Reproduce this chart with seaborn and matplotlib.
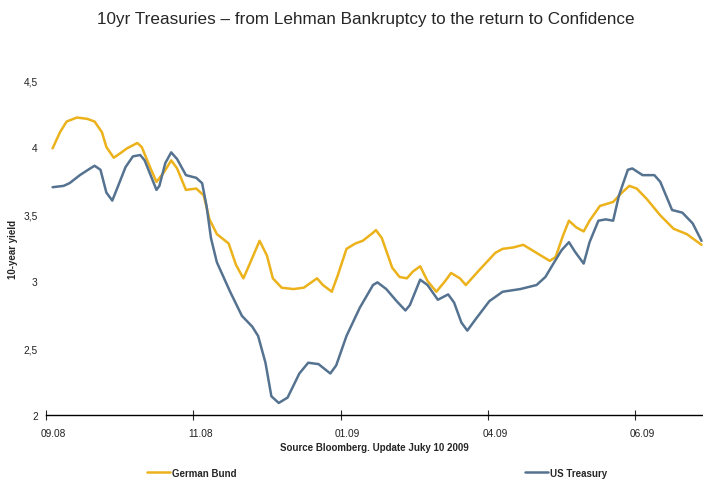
import numpy as np
import pandas as pd
import matplotlib
matplotlib.use('Agg')
import matplotlib.pyplot as plt
import matplotlib.transforms as mtransforms
import seaborn as sns

sns.set_style("white")
plt.rcParams['font.family'] = ['Liberation Sans', 'DejaVu Sans']

# x in "tick slots": 0 = 09.08, 1 = 11.08, 2 = 01.09, 3 = 04.09, 4 = 06.09
tick_labels = ['09.08', '11.08', '01.09', '04.09', '06.09']
ytick_vals = [2, 2.5, 3, 3.5, 4, 4.5]
ytick_labels = ['2', '2,5', '3', '3,5', '4', '4,5']

bund_x = [0.045, 0.095, 0.14, 0.21, 0.28, 0.33, 0.38, 0.41, 0.46, 0.50, 0.55, 0.62, 0.65,
          0.71, 0.75, 0.80, 0.85, 0.89, 0.95, 1.02, 1.07, 1.11, 1.16, 1.24, 1.29, 1.34,
          1.38, 1.45, 1.50, 1.54, 1.60, 1.68, 1.75, 1.84, 1.88, 1.94, 1.98, 2.04, 2.10,
          2.15, 2.22, 2.24, 2.28, 2.35, 2.40, 2.45, 2.49, 2.54, 2.59, 2.65, 2.71, 2.75,
          2.81, 2.85, 2.94, 3.05, 3.10, 3.17, 3.24, 3.33, 3.42, 3.46, 3.51, 3.55, 3.60,
          3.65, 3.69, 3.76, 3.85, 3.91, 3.96, 4.01, 4.08, 4.17, 4.26, 4.35, 4.45]
bund_y = [3.99, 4.11, 4.19, 4.22, 4.21, 4.19, 4.11, 4.00, 3.92, 3.95, 3.99, 4.03, 4.00,
          3.84, 3.74, 3.81, 3.90, 3.84, 3.68, 3.69, 3.64, 3.46, 3.35, 3.28, 3.12, 3.02,
          3.12, 3.30, 3.19, 3.02, 2.95, 2.94, 2.95, 3.02, 2.97, 2.92, 3.04, 3.24, 3.28,
          3.30, 3.36, 3.38, 3.32, 3.10, 3.03, 3.02, 3.07, 3.11, 3.00, 2.92, 3.00, 3.06,
          3.02, 2.97, 3.08, 3.21, 3.24, 3.25, 3.27, 3.21, 3.15, 3.18, 3.34, 3.45, 3.40,
          3.37, 3.45, 3.56, 3.59, 3.66, 3.71, 3.69, 3.61, 3.49, 3.39, 3.35, 3.27]

ust_x = [0.045, 0.12, 0.16, 0.23, 0.30, 0.33, 0.37, 0.41, 0.45, 0.49, 0.54, 0.59, 0.64,
         0.67, 0.71, 0.75, 0.77, 0.81, 0.85, 0.89, 0.95, 1.02, 1.06, 1.09, 1.12, 1.16,
         1.25, 1.33, 1.40, 1.44, 1.49, 1.53, 1.58, 1.64, 1.72, 1.78, 1.85, 1.93, 1.97,
         2.04, 2.13, 2.22, 2.25, 2.31, 2.38, 2.44, 2.47, 2.54, 2.59, 2.66, 2.73, 2.77,
         2.82, 2.86, 2.92, 3.01, 3.10, 3.22, 3.33, 3.39, 3.45, 3.50, 3.55, 3.59, 3.65,
         3.69, 3.75, 3.80, 3.85, 3.89, 3.95, 3.98, 4.05, 4.13, 4.17, 4.25, 4.32, 4.39, 4.45]
ust_y = [3.70, 3.71, 3.73, 3.79, 3.84, 3.86, 3.83, 3.66, 3.60, 3.71, 3.85, 3.93, 3.94,
         3.90, 3.79, 3.68, 3.71, 3.88, 3.96, 3.91, 3.79, 3.77, 3.73, 3.56, 3.32, 3.14,
         2.92, 2.74, 2.66, 2.59, 2.39, 2.14, 2.09, 2.13, 2.31, 2.39, 2.38, 2.31, 2.37,
         2.59, 2.80, 2.97, 2.99, 2.94, 2.85, 2.78, 2.82, 3.01, 2.97, 2.86, 2.90, 2.84,
         2.69, 2.63, 2.72, 2.85, 2.92, 2.94, 2.97, 3.03, 3.14, 3.23, 3.29, 3.22, 3.13,
         3.29, 3.45, 3.46, 3.45, 3.64, 3.83, 3.84, 3.79, 3.79, 3.74, 3.53, 3.51, 3.43, 3.30]

df = pd.concat([
    pd.DataFrame({'x': bund_x, 'yield': bund_y, 'series': 'German Bund'}),
    pd.DataFrame({'x': ust_x, 'yield': ust_y, 'series': 'US Treasury'}),
])

fig = plt.figure(figsize=(7.03, 4.81), dpi=100)
ax = fig.add_axes([0.0654, 0.1351, 0.9346, 0.6965])

sns.lineplot(data=df, x='x', y='yield', hue='series', sort=False, estimator=None,
             palette={'German Bund': '#ECB21B', 'US Treasury': '#557390'},
             linewidth=1.8, ax=ax)

ax.set_xlim(0, 4.46)
ax.set_ylim(2, 4.5)
for s in ['top', 'right', 'left']:
    ax.spines[s].set_visible(False)
ax.spines['bottom'].set_color('black')
ax.spines['bottom'].set_linewidth(1.0)

ax.set_xticks(range(len(tick_labels)))
ax.set_xticklabels(tick_labels, fontsize=7.3, color='#222222')
ax.tick_params(axis='x', direction='inout', length=7, width=0.8, pad=6, bottom=True)
offset = mtransforms.ScaledTranslation(7 / 100, 0, fig.dpi_scale_trans)
for lbl in ax.get_xticklabels():
    lbl.set_transform(lbl.get_transform() + offset)

ax.set_yticks(ytick_vals)
ax.set_yticklabels(ytick_labels, fontsize=7.3, color='#222222')
ax.tick_params(axis='y', length=0, pad=6)

ax.set_xlabel('Source Bloomberg. Update Juky 10 2009', fontsize=7, fontweight='bold', labelpad=3)
ax.set_ylabel('10-year yield', fontsize=7, fontweight='bold')
ax.yaxis.set_label_coords(-0.042, 0.496)

fig.suptitle('10yr Treasuries \u2013 from Lehman Bankruptcy to the return to Confidence',
             x=0.52, y=0.975, fontsize=12.3)

handles, labels = ax.get_legend_handles_labels()
ax.get_legend().remove()
fig.legend(handles, labels, loc='center', bbox_to_anchor=(0.5364, 0.015), ncol=2,
           frameon=False, prop={'size': 7, 'weight': 'bold'}, handlelength=2.4,
           handletextpad=0.15, columnspacing=29.7)

fig.savefig('out.png', dpi=100)
